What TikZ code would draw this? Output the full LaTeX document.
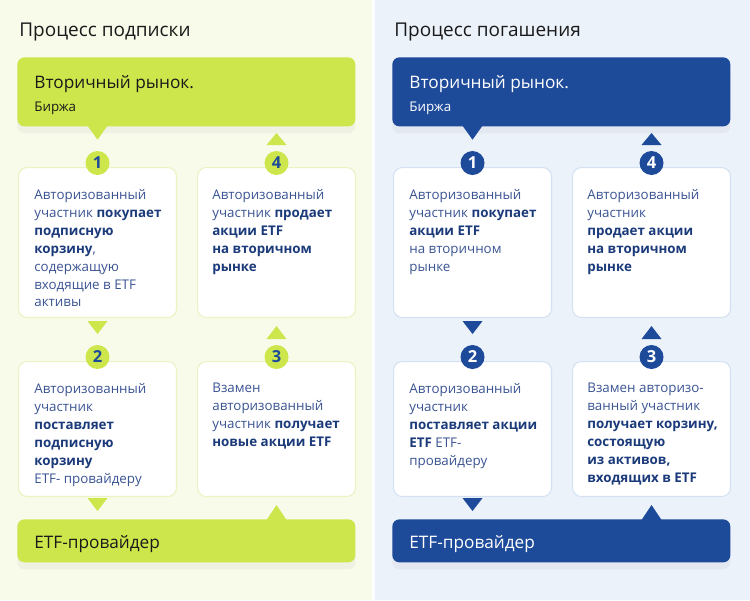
\documentclass[tikz,border=0pt]{standalone}
\usepackage{fontspec}
\setmainfont{Open Sans}
\usetikzlibrary{positioning,shadows}

\definecolor{limefill}{HTML}{CDE64B}
\definecolor{navyfill}{HTML}{1E4A9A}
\definecolor{limebg}{HTML}{F8FBEA}
\definecolor{bluebg}{HTML}{ECF2FA}
\definecolor{limeline}{HTML}{EAF3C2}
\definecolor{blueline}{HTML}{D3E1F2}
\definecolor{bodytext}{HTML}{3A5493}
\definecolor{boldtext}{HTML}{1B3A7A}
\definecolor{headtext}{HTML}{1A1A1A}

\newcommand{\hl}[1]{\textbf{\color{boldtext}#1}}

\tikzstyle{heading} = [anchor=base west, inner sep=0pt, font=\fontsize{10.8}{12}\selectfont, text=headtext]
\tikzstyle{bigbox} = [rectangle, rounded corners=4pt, anchor=north west, minimum width=6.76cm, inner sep=0pt, drop shadow={opacity=0.07, shadow xshift=0pt, shadow yshift=-4pt}]
\tikzstyle{bigtext} = [anchor=base west, inner sep=0pt, font=\fontsize{9.8}{12}\selectfont]
\tikzstyle{smalltext} = [anchor=base west, inner sep=0pt, font=\fontsize{7.6}{9}\selectfont]
\tikzstyle{card} = [rectangle, rounded corners=5pt, anchor=north west, minimum width=3.16cm, fill=white, line width=0.6pt]
\tikzstyle{cardtext} = [anchor=north west, align=left, inner sep=0pt, font=\fontsize{7.6}{10.2}\selectfont, text=bodytext]
\tikzstyle{stepnum} = [circle, minimum size=0.48cm, inner sep=0pt, font=\fontsize{9.4}{10}\selectfont\bfseries]

\begin{document}
\begin{tikzpicture}[x=0.02cm, y=-0.02cm]
    \useasboundingbox (0,0) rectangle (750,600);
    \fill[limebg] (0,0) rectangle (372,600);
    \fill[bluebg] (375,0) rectangle (750,600);

    % subscription
    \node (subhead) [heading] at (19,36) {Процесс подписки};
    \node (subtop) [bigbox, fill=limefill, minimum height=1.38cm] at (17,57) {};
    \node (subtopa) [bigtext, text=headtext] at (34,88) {Вторичный рынок.};
    \node (subtopb) [smalltext, text=headtext] at (34,111) {Биржа};

    \node (sub1) [card, draw=limeline, minimum height=3cm] at (18,167) {};
    \node (sub4) [card, draw=limeline, minimum height=3cm] at (197,167) {};
    \node (sub2) [card, draw=limeline, minimum height=2.7cm] at (18,361) {};
    \node (sub3) [card, draw=limeline, minimum height=2.7cm] at (197,361) {};

    \node (subbot) [bigbox, fill=limefill, minimum height=0.86cm] at (17,519) {};
    \node (subbota) [bigtext, text=headtext] at (34,548) {ETF-провайдер};

    \node (sub1t) [cardtext] at (34,189) {Авторизованный\\участник \hl{покупает}\\\hl{подписную}\\\hl{корзину},\\содержащую\\входящие в ETF\\активы};
    \node (sub4t) [cardtext] at (212,189) {Авторизованный\\участник \hl{продает}\\\hl{акции ETF}\\\hl{на вторичном}\\\hl{рынке}};
    \node (sub2t) [cardtext] at (34,383) {Авторизованный\\участник\\\hl{поставляет}\\\hl{подписную}\\\hl{корзину}\\ETF- провайдеру};
    \node (sub3t) [cardtext] at (212,383) {Взамен\\авторизованный\\участник \hl{получает}\\\hl{новые акции ETF}};

    \fill[limefill] (sub1.north |- subtop.south) ++(-10,-1) -- ++(20,0) -- ++(-10,14) -- cycle;
    \fill[limefill] (sub4.north) ++(-10,-22) -- ++(20,0) -- ++(-10,-12) -- cycle;
    \fill[limefill] (sub1.south) ++(-10,3) -- ++(20,0) -- ++(-10,13) -- cycle;
    \fill[limefill] (sub4.south) ++(-10,21) -- ++(20,0) -- ++(-10,-13) -- cycle;
    \fill[limefill] (sub2.south) ++(-10,1) -- ++(20,0) -- ++(-10,13) -- cycle;
    \fill[limefill] (sub3.south |- subbot.north) ++(-10,1) -- ++(20,0) -- ++(-10,-15) -- cycle;

    \node (sub1n) [stepnum, fill=limefill, text=navyfill] at ([yshift=4*0.02cm]sub1.north) {1};
    \node (sub4n) [stepnum, fill=limefill, text=navyfill] at ([yshift=4*0.02cm]sub4.north) {4};
    \node (sub2n) [stepnum, fill=limefill, text=navyfill] at ([yshift=4*0.02cm]sub2.north) {2};
    \node (sub3n) [stepnum, fill=limefill, text=navyfill] at ([yshift=4*0.02cm]sub3.north) {3};

    % redemption
    \node (redhead) [heading] at (394,36) {Процесс погашения};
    \node (redtop) [bigbox, fill=navyfill, minimum height=1.38cm] at (392,57) {};
    \node (redtopa) [bigtext, text=white] at (409,88) {Вторичный рынок.};
    \node (redtopb) [smalltext, text=white] at (409,111) {Биржа};

    \node (red1) [card, draw=blueline, minimum height=3cm] at (393,167) {};
    \node (red4) [card, draw=blueline, minimum height=3cm] at (572,167) {};
    \node (red2) [card, draw=blueline, minimum height=2.7cm] at (393,361) {};
    \node (red3) [card, draw=blueline, minimum height=2.7cm] at (572,361) {};

    \node (redbot) [bigbox, fill=navyfill, minimum height=0.86cm] at (392,519) {};
    \node (redbota) [bigtext, text=white] at (409,548) {ETF-провайдер};

    \node (red1t) [cardtext] at (409,189) {Авторизованный\\участник \hl{покупает}\\\hl{акции ETF}\\на вторичном\\рынке};
    \node (red4t) [cardtext] at (587,189) {Авторизованный\\участник\\\hl{продает акции}\\\hl{на вторичном}\\\hl{рынке}};
    \node (red2t) [cardtext] at (409,383) {Авторизованный\\участник\\\hl{поставляет акции}\\\hl{ETF} ETF-\\провайдеру};
    \node (red3t) [cardtext] at (587,383) {Взамен авторизо-\\ванный участник\\\hl{получает корзину,}\\\hl{состоящую}\\\hl{из активов,}\\\hl{входящих в ETF}};

    \fill[navyfill] (red1.north |- redtop.south) ++(-10,-1) -- ++(20,0) -- ++(-10,14) -- cycle;
    \fill[navyfill] (red4.north) ++(-10,-22) -- ++(20,0) -- ++(-10,-12) -- cycle;
    \fill[navyfill] (red1.south) ++(-10,3) -- ++(20,0) -- ++(-10,13) -- cycle;
    \fill[navyfill] (red4.south) ++(-10,21) -- ++(20,0) -- ++(-10,-13) -- cycle;
    \fill[navyfill] (red2.south) ++(-10,1) -- ++(20,0) -- ++(-10,13) -- cycle;
    \fill[navyfill] (red3.south |- redbot.north) ++(-10,1) -- ++(20,0) -- ++(-10,-15) -- cycle;

    \node (red1n) [stepnum, fill=navyfill, text=white] at ([yshift=4*0.02cm]red1.north) {1};
    \node (red4n) [stepnum, fill=navyfill, text=white] at ([yshift=4*0.02cm]red4.north) {4};
    \node (red2n) [stepnum, fill=navyfill, text=white] at ([yshift=4*0.02cm]red2.north) {2};
    \node (red3n) [stepnum, fill=navyfill, text=white] at ([yshift=4*0.02cm]red3.north) {3};
\end{tikzpicture}
\end{document}
